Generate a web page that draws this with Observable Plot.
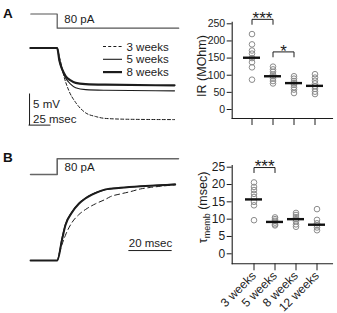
<!DOCTYPE html>
<html>
<head>
<meta charset="utf-8">
<script src="https://cdn.jsdelivr.net/npm/d3@7"></script>
<script src="https://cdn.jsdelivr.net/npm/@observablehq/plot@0.6"></script>
<style>
  body { margin: 0; background: #fff; }
  #fig { position: relative; width: 337px; height: 313px; overflow: hidden;
         font-family: "Liberation Sans", Arial, Helvetica, sans-serif; background: #fff; }
  #fig svg { position: absolute; left: 0; top: 0; overflow: visible; }
  .panel { position: absolute; font-weight: bold; font-size: 13.5px; color: #111; line-height: 1; }
</style>
</head>
<body>
<div id="fig">
  <div class="panel" style="left:3px;top:7px">A</div>
  <div class="panel" style="left:3px;top:151px">B</div>
</div>
<script>
// ---- groups -------------------------------------------------------------
const groups = ["3 weeks", "5 weeks", "8 weeks", "12 weeks"];

// ---- input resistance (MOhm) per cell, by age ---------------------------
const ir3 = [220, 190, 172, 163, 150, 138, 123, 87];
const ir5 = [125, 117, 110, 102, 97, 90, 83, 76];
const ir8 = [97, 90, 83, 77, 72, 65, 58, 48];
const ir12 = [103, 93, 84, 76, 68, 60, 52, 45];
const irMean = [151, 97, 77, 69];
const irTicks = [0, 50, 100, 150, 200, 250];
const irStars = [["3 weeks", "5 weeks", "***"], ["5 weeks", "8 weeks", "*"]];

// ---- membrane time constant (msec) per cell, by age ---------------------
const tau3 = [20.6, 19.3, 18.4, 17.3, 16.4, 15.0, 14.0, 9.7];
const tau5 = [10.5, 10.0, 9.5, 9.0, 8.5, 8.2];
const tau8 = [11.8, 11.2, 10.6, 10.0, 9.4, 8.5, 7.8];
const tau12 = [12.9, 9.8, 8.8, 8.2, 7.6, 6.8];
const tauMean = [15.7, 9.2, 10.0, 8.4];
const tauTicks = [0, 5, 10, 15, 20, 25];
const tauStars = [["3 weeks", "5 weeks", "***"]];

// ---- voltage responses to the current step: [time (ms), V (mV)] ---------
const vA3 = [[-32, 0], [0, 0], [2, -1.1], [4, -2.2], [8, -4.6], [14, -7.0], [22, -8.9], [34, -10.6], [46, -11.2], [57, -11.5], [87, -11.65], [140, -11.7]];
const vA5 = [[-32, 0], [0, 0], [2.7, -2.1], [6, -3.6], [10, -4.9], [16, -5.9], [22, -6.5], [34, -6.8], [57, -6.9], [140, -7.0]];
const vA8 = [[-32, 0], [0, 0], [2.7, -2.1], [6, -3.5], [10, -4.6], [16, -5.3], [22, -5.7], [34, -5.9], [57, -6.0], [140, -6.1]];
const stepA = [[-31.5, 0], [0, 0], [0, -80], [145, -80]];   // pA
const stepAmp = 80;                                          // pA
const barA = {mV: 5, ms: 25};

// ---- normalized charging curves: [time (ms), V / Vss] -------------------
const vB3 = [[-12.3, 0], [0, 0], [1, 0.1], [3.8, 0.33], [6.9, 0.5], [10, 0.6], [13.8, 0.68], [17.6, 0.74], [22.3, 0.8], [24.6, 0.835], [29.2, 0.87], [33.8, 0.9], [38.4, 0.935], [43, 0.955], [47.6, 0.97], [54.5, 0.99]];
const vB5 = [[-12.3, 0], [0, 0], [2.3, 0.3], [3.8, 0.47], [6.9, 0.64], [10, 0.75], [13, 0.815], [16.1, 0.865], [19.2, 0.9], [22.3, 0.925], [29.2, 0.95], [38.4, 0.97], [47.6, 0.985], [54.5, 1.0]];
const vB8 = [[-12.3, 0], [0, 0], [2.3, 0.28], [3.8, 0.46], [6.9, 0.63], [10, 0.74], [13, 0.81], [16.1, 0.86], [19.2, 0.9], [22.3, 0.93], [29.2, 0.95], [38.4, 0.97], [47.6, 0.985], [54.5, 0.993]];
const stepB = [[-12.3, 0], [0, 0], [0, 80], [56, 80]];       // pA
const barB = {ms: 20};

// ---- legend entries -----------------------------------------------------
const legendNames = ["3 weeks", "5 weeks", "8 weeks"];
const legendWidths = [1, 1.1, 2.2];
const legendDash = ["3,2.2", null, null];

// ========================================================================
const W = 337, H = 313;
const ink = "#1c1c1c";
const font = "Liberation Sans, Arial, Helvetica, sans-serif";
const fig = document.getElementById("fig");
const base = {width: W, height: H, style: {background: "transparent", fontFamily: font, overflow: "visible", color: ink}};
const add = (svg) => { fig.appendChild(svg); return svg; };
const tx = (d) => d[0], vy = (d) => d[1];

// ---------- panel A: current step ----------
const pxA = 0.838;             // px per ms
const t0A = 56.7;              // step onset
add(Plot.plot({
  ...base, margin: 0,
  x: {domain: [0, 100], range: [t0A, t0A + 100 * pxA], axis: null},
  y: {domain: [0, -stepAmp], range: [13.5, 27.7], axis: null},
  marks: [
    Plot.line(stepA, {x: tx, y: vy, stroke: "#555", strokeWidth: 1.2}),
    Plot.text([`${stepAmp} pA`], {x: 8.5, y: -stepAmp * 0.4, textAnchor: "start", lineAnchor: "middle", fontSize: 11.5, fill: ink})
  ]
}));

// ---------- panel A: voltage traces ----------
const cornerA = [-33, -12.6];
const traceA = add(Plot.plot({
  ...base, margin: 0,
  x: {domain: [0, 100], range: [t0A, t0A + 100 * pxA], axis: null},
  y: {domain: [0, -10], range: [47.5, 47.5 + 61.2], axis: null},
  marks: [
    Plot.line(vA3, {x: tx, y: vy, curve: "monotone-x", stroke: ink, strokeWidth: 1, strokeDasharray: "3,2.2"}),
    Plot.line(vA5, {x: tx, y: vy, curve: "monotone-x", stroke: ink, strokeWidth: 1.1}),
    Plot.line(vA8, {x: tx, y: vy, curve: "monotone-x", stroke: ink, strokeWidth: 2.2}),
    Plot.ruleX([cornerA[0]], {y1: cornerA[1], y2: cornerA[1] + barA.mV, stroke: ink, strokeWidth: 1, strokeLinecap: "square"}),
    Plot.ruleY([cornerA[1]], {x1: cornerA[0], x2: cornerA[0] + barA.ms, stroke: ink, strokeWidth: 1, strokeLinecap: "square"}),
    Plot.text([`${barA.mV} mV`], {x: cornerA[0], y: -9.15, dx: 3.5, textAnchor: "start", lineAnchor: "middle", fontSize: 11.5, fill: ink}),
    Plot.text([`${barA.ms} msec`], {x: cornerA[0], y: -11.6, dx: 3.5, textAnchor: "start", lineAnchor: "middle", fontSize: 11.5, fill: ink})
  ]
}));

// legend for the traces
{
  const g = d3.select(traceA).append("g")
    .attr("font-family", font).attr("font-size", 11.5).attr("fill", ink).attr("text-anchor", "start");
  legendNames.forEach((name, i) => {
    const y = 46.5 + i * 12.8;
    g.append("line").attr("x1", 103).attr("x2", 122).attr("y1", y).attr("y2", y)
      .attr("stroke", ink).attr("stroke-width", legendWidths[i])
      .attr("stroke-dasharray", legendDash[i]);
    g.append("text").attr("x", 126.5).attr("y", y).attr("dy", "0.35em").attr("text-anchor", "start").text(name);
  });
}

// ---------- panel B: current step ----------
const pxB = 2.165;
const t0B = 56.7;
add(Plot.plot({
  ...base, margin: 0,
  x: {domain: [0, 20], range: [t0B, t0B + 20 * pxB], axis: null},
  y: {domain: [0, stepAmp], range: [174, 158.3], axis: null},
  marks: [
    Plot.line(stepB, {x: tx, y: vy, stroke: "#666", strokeWidth: 1.6}),
    Plot.text([`${stepAmp} pA`], {x: 3.4, y: stepAmp * 0.45, textAnchor: "start", lineAnchor: "middle", fontSize: 11.5, fill: ink})
  ]
}));

// ---------- panel B: charging curves ----------
const cornerB = [33.1, 0.13];
add(Plot.plot({
  ...base, margin: 0,
  x: {domain: [0, 20], range: [t0B, t0B + 20 * pxB], axis: null},
  y: {domain: [0, 1], range: [260, 183.5], axis: null},
  marks: [
    Plot.line(vB3, {x: tx, y: vy, curve: "monotone-x", stroke: ink, strokeWidth: 1, strokeDasharray: "5,3.5"}),
    Plot.line(vB5, {x: tx, y: vy, curve: "monotone-x", stroke: ink, strokeWidth: 1.2}),
    Plot.line(vB8, {x: tx, y: vy, curve: "monotone-x", stroke: ink, strokeWidth: 2}),
    Plot.ruleY([cornerB[1]], {x1: cornerB[0], x2: cornerB[0] + barB.ms, stroke: ink, strokeWidth: 1}),
    Plot.text([`${barB.ms} msec`], {x: cornerB[0] + barB.ms / 2, y: cornerB[1], dy: -7, textAnchor: "middle", lineAnchor: "middle", fontSize: 11.5, fill: ink})
  ]
}));

// ---------- scatter panels ----------
function scatter({series, means, ticks, stars, yRange, top, bottom, xRange, tickFont, rotate, title}) {
  const rows = series.flatMap((vs, i) => vs.map((v) => ({group: groups[i], value: v})));
  const meanRows = means.map((m, i) => ({group: groups[i], value: m}));
  const ymax = ticks[ticks.length - 1];
  const pad = 0.172 * ymax, drop = 0.058 * ymax;
  const byGroup = (g) => series[groups.indexOf(g)];
  const brackets = stars.map(([a, b, s], k) => ({a, b, s, k, level: Math.max(...byGroup(a), ...byGroup(b)) + pad}));
  const bracketPts = brackets.flatMap(({a, b, k, level}) => [
    {x: a, y: level - drop, k}, {x: a, y: level, k}, {x: b, y: level, k}, {x: b, y: level - drop, k}
  ]);
  const bw = (xRange[1] - xRange[0]) / groups.length;
  const svg = add(Plot.plot({
    ...base,
    marginLeft: 231.7, marginRight: 5, marginTop: top, marginBottom: H - bottom,
    x: {type: "band", domain: groups, range: xRange, padding: 0},
    y: {domain: [0, ymax], range: yRange},
    marks: [
      Plot.frame({anchor: "left", stroke: ink, strokeWidth: 1.1}),
      Plot.frame({anchor: "bottom", stroke: ink, strokeWidth: 1.1}),
      Plot.axisY({ticks, tickSize: 5, tickPadding: 2, fontSize: tickFont, label: null, stroke: ink, fill: ink}),
      rotate
        ? Plot.axisX({tickSize: 7, tickPadding: 3, tickRotate: -45, fontSize: 12, label: null, stroke: ink, fill: ink})
        : Plot.axisX({tickSize: 7, tickFormat: () => "", label: null, stroke: ink}),
      Plot.dot(rows, {x: "group", y: "value", r: 2.8, stroke: "#8c8c8c", strokeWidth: 1, fill: "none"}),
      Plot.tickY(meanRows, {x: "group", y: "value", stroke: "#111", strokeWidth: 2.4, insetLeft: 2, insetRight: 2}),
      Plot.line(bracketPts, {x: "x", y: "y", z: "k", stroke: ink, strokeWidth: 1}),
      Plot.text(brackets, {x: "a", y: "level", text: "s", dx: bw / 2, dy: -0.5, fontSize: 17, lineAnchor: "middle", fill: ink})
    ]
  }));
  // rotated y-axis title (built by hand for the subscript)
  const t = d3.select(svg).append("text")
    .attr("transform", `translate(${title.x},${title.y}) rotate(-90)`)
    .attr("text-anchor", "middle").attr("dy", "0.35em")
    .attr("font-family", font).attr("font-size", 12.5).attr("fill", ink);
  title.parts.forEach(([s, sub]) => {
    const span = t.append("tspan").text(s);
    if (sub) span.attr("font-size", 9).attr("baseline-shift", "-3");
  });
  return svg;
}

scatter({
  series: [ir3, ir5, ir8, ir12], means: irMean, ticks: irTicks, stars: irStars,
  yRange: [109, 23.3], top: 21.7, bottom: 118, xRange: [241.2, 325.4], tickFont: 10.5, rotate: false,
  title: {x: 201.7, y: 66, parts: [["IR (MOhm)"]]}
});

scatter({
  series: [tau3, tau5, tau8, tau12], means: tauMean, ticks: tauTicks, stars: tauStars,
  yRange: [253.3, 166.7], top: 165, bottom: 263.3, xRange: [242, 327], tickFont: 12, rotate: true,
  title: {x: 202.7, y: 207.5, parts: [["τ"], ["memb", true], [" (msec)"]]}
});
</script>
</body>
</html>
